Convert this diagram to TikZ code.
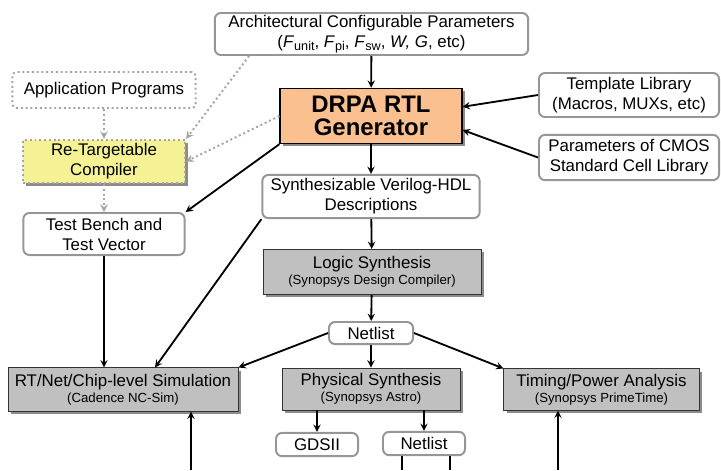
\documentclass[tikz,border=0pt]{standalone}
\usepackage{fontspec}
\setmainfont{Liberation Sans}
\usetikzlibrary{shadows}
\definecolor{genfill}{RGB}{250,192,143}
\definecolor{compfill}{RGB}{245,242,150}
\definecolor{boxgray}{RGB}{192,192,192}
\definecolor{rimgray}{RGB}{150,150,150}
\definecolor{dotgray}{RGB}{165,165,165}
\newcommand\lowtxt[1]{\raisebox{-0.3ex}{\fontsize{9}{10}\selectfont #1}}
\newcommand\subt[1]{{\fontsize{9.4}{11}\selectfont #1}}

\begin{document}
\begin{tikzpicture}[>=stealth, x=0.025cm, y=-0.025cm,
  every node/.style={font=\fontsize{12}{14.2}\selectfont, align=center, inner sep=0pt},
  rbox/.style={draw=rimgray, line width=1.4pt, rounded corners=0.15cm, fill=white},
  dbox/.style={draw=dotgray, line width=1.4pt, dotted},
  shad/.style={drop shadow={shadow xshift=0.07cm, shadow yshift=-0.07cm, fill=black!45, opacity=1}},
  gbox/.style={draw=black!80, line width=0.6pt, fill=boxgray, shad},
  arr/.style={->, line width=1.3pt},
  darr/.style={->, draw=dotgray, line width=1.4pt, dotted}]
\useasboundingbox (0,0) rectangle (721,470);

% boxes, top part
\node[rbox, minimum width=7.83cm, minimum height=1.05cm] (arch) at (371.5,34)
  {Architectural Configurable Parameters\\(\textit{F}\lowtxt{unit}, \textit{F}\lowtxt{pi}, \textit{F}\lowtxt{sw}, \textit{W, G}, etc)};
\node[draw=black, line width=0.8pt, fill=genfill, shad, minimum width=4.55cm, minimum height=1.38cm,
  font=\fontsize{17}{16}\selectfont\bfseries] (gen) at (371,116) {DRPA RTL\\Generator};
\node[dbox, rounded corners=0.1cm, minimum width=4.58cm, minimum height=0.9cm] (app) at (104,90) {Application Programs};
\node[dbox, fill=compfill, shad, minimum width=4.05cm, minimum height=1.08cm] (comp) at (104,161.5) {Re-Targetable\\Compiler};
\node[rbox, minimum width=4.5cm, minimum height=1.1cm] (tmpl) at (629,95) {Template Library\\(Macros, MUXs, etc)};
\node[rbox, minimum width=4.5cm, minimum height=1.13cm] (cmos) at (629,157.5) {Parameters of CMOS\\Standard Cell Library};
\node[rbox, minimum width=5.43cm, minimum height=1.08cm] (verilog) at (371,196.5) {Synthesizable Verilog-HDL\\Descriptions};
\node[rbox, minimum width=4.03cm, minimum height=1.05cm] (tb) at (104,234) {Test Bench and\\Test Vector};

% boxes, bottom part
\node[gbox, minimum width=5.45cm, minimum height=1.13cm] (logic) at (372,272)
  {Logic Synthesis\\[-2.5pt]\subt{(Synopsys Design Compiler)}};
\node[rbox, minimum width=2.1cm, minimum height=0.55cm] (net) at (371,333) {Netlist};
\node[gbox, minimum width=5.75cm, minimum height=1.08cm] (sim) at (123,389.5)
  {RT/Net/Chip-level Simulation\\[-2.5pt]\subt{(Cadence NC-Sim)}};
\node[gbox, minimum width=4.45cm, minimum height=1.05cm] (phys) at (371,389)
  {Physical Synthesis\\[-2.5pt]\subt{(Synopsys Astro)}};
\node[gbox, minimum width=4.88cm, minimum height=1.03cm] (timing) at (601.5,389.5)
  {Timing/Power Analysis\\[-2.5pt]\subt{(Synopsys PrimeTime)}};
\node[rbox, minimum width=2.05cm, minimum height=0.58cm] (gds) at (317,444.5) {GDSII};
\node[rbox, minimum width=2.05cm, minimum height=0.58cm] (net2) at (424,443.5) {Netlist};

\coordinate (simin) at (191,470);
\coordinate (tpin) at (558,470);
\coordinate (outa) at (402,470);
\coordinate (outb) at (450,470);

% dotted flow
\draw[darr] (app) -- (comp);
\draw[darr] ([xshift=0.88cm]arch.south west) -- (comp.north east);
\draw[darr] (gen.west) -- (comp.east);
\draw[darr] (comp) -- (tb);

% solid flow
\draw[arr] (arch) -- (gen);
\draw[arr] (tmpl.west) -- ([yshift=0.23cm]gen.east);
\draw[arr] (cmos.west) -- ([yshift=-0.35cm]gen.east);
\draw[arr] (gen.south west) -- (tb.north east);
\draw[arr] (gen) -- (verilog);
\draw[arr] (verilog) -- (logic);
\draw[arr] (verilog.south west) -- ([xshift=0.8cm]sim.north);
\draw[arr] (tb.south) -- (tb.south |- sim.north);
\draw[arr] (logic) -- (net);
\draw[arr] (net.west) -- (sim.north east);
\draw[arr] (net) -- (phys);
\draw[arr] (net.east) -- (timing.north west);
\draw[arr] (gds.north |- phys.south) -- (gds);
\draw[arr] (net2.north |- phys.south) -- (net2);
\draw[arr] (simin) -- (simin |- sim.south);
\draw[arr] (tpin) -- (tpin |- timing.south);
\draw[line width=1.3pt] (outa |- net2.south) -- (outa);
\draw[line width=1.3pt] (outb |- net2.south) -- (outb);
\end{tikzpicture}
\end{document}
